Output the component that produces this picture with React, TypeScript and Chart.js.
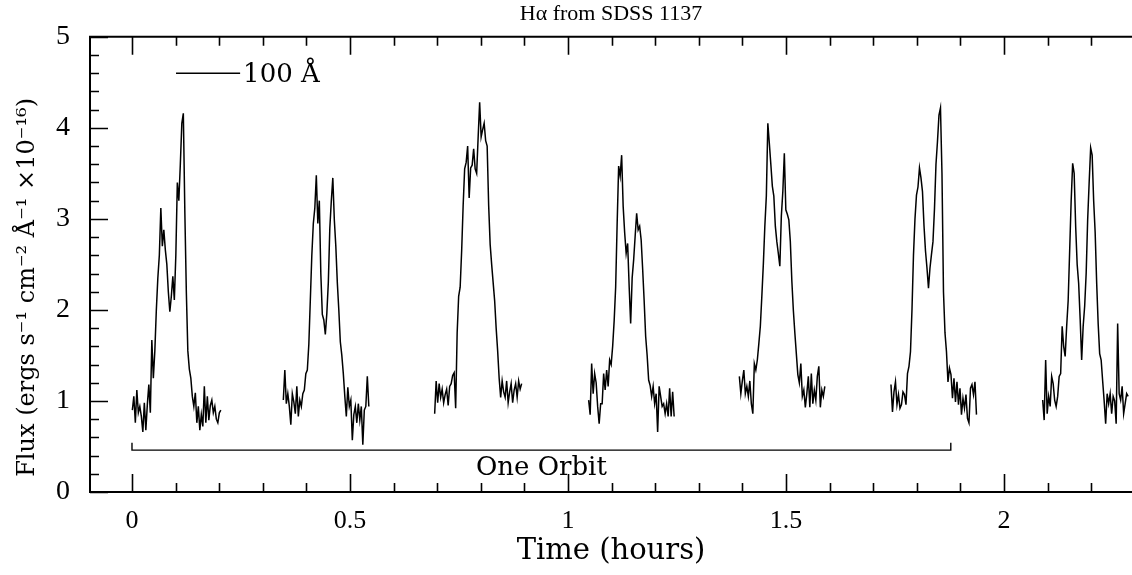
import React, { useEffect, useRef } from "react";
import { Chart, registerables } from "chart.js";

Chart.register(...registerables);

// ---------- data (time in hours, flux in 1e-16 erg s^-1 cm^-2 A^-1) ----------
const SAMPLE_STEP = 0.00344; // hours between successive spectrum samples

const seg1Start = 0.0008;
const seg1Flux = [0.90, 1.05, 0.76, 1.12, 0.87, 0.94, 0.83, 0.66, 0.98, 0.68, 0.96, 1.18, 0.87, 1.67, 1.25, 1.55, 2.00, 2.35, 2.60, 3.12, 2.70, 2.88, 2.66, 2.50, 2.20, 1.98, 2.15, 2.37, 2.11, 2.60, 3.40, 3.20, 3.60, 4.05, 4.16, 3.08, 2.20, 1.55, 1.35, 1.25, 1.05, 0.94, 1.09, 0.76, 0.94, 0.68, 0.85, 0.72, 1.16, 0.76, 1.05, 0.79, 0.95, 1.01, 0.87, 0.94, 0.80, 0.76, 0.87, 0.90];

const seg2Start = 0.3471;
const seg2Flux = [1.01, 1.34, 0.97, 1.08, 0.94, 0.74, 1.08, 0.99, 0.86, 1.16, 0.83, 1.01, 0.94, 1.08, 1.12, 1.30, 1.34, 1.62, 2.11, 2.60, 2.95, 3.12, 3.48, 2.95, 3.20, 2.40, 1.95, 1.89, 1.73, 1.96, 2.30, 2.90, 3.20, 3.45, 2.99, 2.70, 2.30, 2.00, 1.65, 1.50, 1.30, 1.05, 0.83, 1.15, 0.94, 1.01, 0.57, 0.85, 0.94, 0.76, 0.97, 0.79, 0.94, 0.52, 0.90, 0.94, 1.27, 0.94];

const seg3Start = 0.6942;
const seg3Flux = [0.86, 1.22, 0.98, 1.19, 1.04, 1.13, 0.98, 1.07, 1.13, 0.95, 1.16, 1.19, 1.28, 1.31, 0.92, 1.75, 2.15, 2.25, 2.65, 3.15, 3.55, 3.62, 3.80, 3.23, 3.56, 3.59, 3.77, 3.55, 3.50, 3.90, 4.28, 3.90, 3.98, 4.05, 3.86, 3.80, 3.15, 2.72, 2.50, 2.30, 2.10, 1.80, 1.55, 1.25, 1.04, 1.22, 1.10, 1.04, 1.22, 0.98, 1.10, 1.19, 0.98, 1.12, 1.19, 1.04, 1.22, 1.13, 1.19];

const seg4Start = 1.0474;
const seg4Flux = [1.01, 0.85, 1.41, 1.08, 1.30, 1.20, 0.94, 0.75, 0.97, 0.97, 1.30, 1.12, 1.34, 1.16, 1.45, 1.40, 1.60, 1.88, 2.25, 2.95, 3.58, 3.47, 3.70, 3.14, 2.85, 2.62, 2.73, 2.26, 1.85, 2.35, 2.55, 2.81, 3.06, 2.88, 2.92, 2.77, 2.45, 2.10, 1.71, 1.50, 1.23, 1.17, 1.05, 1.16, 0.97, 1.08, 0.66, 1.16, 1.05, 0.94, 0.97, 0.86, 0.97, 0.83, 1.14, 0.83, 1.10, 0.83];

const seg5Start = 1.3930;
const seg5Flux = [1.27, 1.08, 1.22, 1.34, 1.08, 1.16, 1.05, 1.22, 0.97, 0.86, 1.41, 1.34, 1.45, 1.63, 1.82, 2.15, 2.50, 2.92, 3.25, 4.05, 3.83, 3.60, 3.36, 3.25, 2.92, 2.75, 2.62, 2.48, 3.03, 3.30, 3.72, 3.10, 3.05, 2.99, 2.75, 2.32, 2.00, 1.75, 1.52, 1.29, 1.20, 1.41, 1.05, 1.12, 0.93, 1.08, 1.27, 0.93, 1.30, 0.97, 1.12, 1.01, 1.27, 1.38, 0.93, 1.12, 1.05, 1.16];

const seg6Start = 1.7408;
const seg6Flux = [1.18, 0.88, 1.10, 1.21, 0.96, 1.07, 0.92, 0.96, 1.10, 1.07, 0.96, 1.30, 1.38, 1.54, 2.00, 2.60, 3.00, 3.26, 3.35, 3.56, 3.45, 3.30, 2.93, 2.65, 2.46, 2.24, 2.46, 2.61, 2.75, 3.11, 3.60, 3.85, 4.14, 4.22, 3.50, 2.20, 1.75, 1.54, 1.21, 1.36, 1.29, 1.03, 1.25, 0.99, 1.21, 0.96, 1.14, 0.85, 1.03, 0.92, 1.07, 0.81, 0.76, 1.14, 1.18, 1.07, 1.21, 0.85];

const seg7Start = 2.0887;
const seg7Flux = [1.01, 0.79, 1.45, 0.86, 1.05, 0.94, 1.27, 1.19, 1.01, 0.94, 1.05, 1.27, 1.30, 1.82, 1.60, 1.49, 1.82, 2.10, 2.65, 3.20, 3.61, 3.50, 2.92, 2.50, 2.29, 1.90, 1.45, 1.82, 2.04, 2.40, 2.99, 3.40, 3.78, 3.70, 3.20, 2.85, 2.30, 1.85, 1.52, 1.45, 1.22, 1.00, 0.75, 1.08, 0.97, 1.08, 0.86, 1.05, 1.00, 0.75, 1.85, 1.08, 1.01, 1.16, 0.86, 0.97, 1.08, 1.05];

// "One Orbit" bracket
const ORBIT_START = 0;
const ORBIT_END = 1.878;
const ORBIT_LEVEL = 0.46;
const ORBIT_CAP = 0.54;
const ORBIT_LABEL = "One Orbit";

// 100 Å scale bar
const BAR_START = 0.101;
const BAR_END = 0.248;
const BAR_LEVEL = 4.6;
const BAR_LABEL = "100 Å";

// axes
const X_MIN = -0.0963;
const X_MAX = 2.2936;
const Y_MIN = 0;
const Y_MAX = 5;
const X_TICK_LABELS = [0, 0.5, 1, 1.5, 2];
const Y_TICK_LABELS = [0, 1, 2, 3, 4, 5];
const X_MINOR = 0.1;
const X_MAJOR = 0.5;
const Y_MINOR = 0.2;
const Y_MAJOR = 1;

const TITLE = "Hα from SDSS 1137";
const X_TITLE = "Time (hours)";
const Y_TITLE = "Flux (ergs s⁻¹ cm⁻² Å⁻¹ ×10⁻¹⁶)";

const SERIF = '"DejaVu Serif", serif';
const TICK_FONT = '"Liberation Serif", serif';

const framePlugin = {
  id: "frameTicks",
  afterDatasetsDraw(chart: any) {
    const { ctx, chartArea: a, scales } = chart;
    const xs = scales.x;
    const ys = scales.y;
    ctx.save();
    ctx.strokeStyle = "#000";
    ctx.lineWidth = 2;
    ctx.beginPath();
    ctx.moveTo(a.right, a.top);
    ctx.lineTo(a.left, a.top);
    ctx.lineTo(a.left, a.bottom);
    ctx.lineTo(a.right, a.bottom);
    ctx.stroke();
    ctx.lineWidth = 1.6;
    ctx.beginPath();
    const nx = Math.round((X_MAX - 0) / X_MINOR);
    for (let i = -1; i <= nx; i++) {
      const v = i * X_MINOR;
      if (v < X_MIN || v > X_MAX) continue;
      const major = Math.abs(v / X_MAJOR - Math.round(v / X_MAJOR)) < 1e-6;
      const len = major ? 18 : 9;
      const px = Math.round(xs.getPixelForValue(v)) + 0.5;
      ctx.moveTo(px, a.bottom);
      ctx.lineTo(px, a.bottom - len);
      ctx.moveTo(px, a.top);
      ctx.lineTo(px, a.top + len);
    }
    const ny = Math.round((Y_MAX - Y_MIN) / Y_MINOR);
    for (let i = 0; i <= ny; i++) {
      const v = Y_MIN + i * Y_MINOR;
      const major = Math.abs(v / Y_MAJOR - Math.round(v / Y_MAJOR)) < 1e-6;
      const len = major ? 18 : 9;
      const py = Math.round(ys.getPixelForValue(v)) + 0.5;
      ctx.moveTo(a.left, py);
      ctx.lineTo(a.left + len, py);
    }
    ctx.stroke();
    ctx.restore();
  },
};

const labelPlugin = {
  id: "annotLabels",
  afterDraw(chart: any) {
    const { ctx, chartArea: a, scales } = chart;
    const xs = scales.x;
    const ys = scales.y;
    ctx.save();
    ctx.fillStyle = "#000";
    ctx.font = `26px ${SERIF}`;
    // one orbit label
    ctx.textAlign = "center";
    ctx.textBaseline = "top";
    ctx.fillText(
      ORBIT_LABEL,
      xs.getPixelForValue((ORBIT_START + ORBIT_END) / 2),
      ys.getPixelForValue(ORBIT_LEVEL) + 5
    );
    // scale bar label
    ctx.textAlign = "left";
    ctx.textBaseline = "middle";
    ctx.fillText(BAR_LABEL, xs.getPixelForValue(BAR_END) + 3, ys.getPixelForValue(BAR_LEVEL) + 2);
    // y title
    ctx.translate(28, (a.top + a.bottom) / 2 + 23);
    ctx.rotate(-Math.PI / 2);
    ctx.textAlign = "center";
    ctx.textBaseline = "middle";
    ctx.font = `24px ${SERIF}`;
    ctx.fillText(Y_TITLE, 0, 0);
    ctx.restore();
  },
};

export default function App() {
  const ref = useRef<HTMLCanvasElement | null>(null);

  useEffect(() => {
    const canvas = ref.current;
    if (!canvas) return;
    const segments: [number, number[]][] = [
      [seg1Start, seg1Flux],
      [seg2Start, seg2Flux],
      [seg3Start, seg3Flux],
      [seg4Start, seg4Flux],
      [seg5Start, seg5Flux],
      [seg6Start, seg6Flux],
      [seg7Start, seg7Flux],
    ];
    const lineStyle = {
      borderColor: "#000",
      borderWidth: 1.5,
      pointRadius: 0,
      tension: 0,
      fill: false,
    };
    const datasets: any[] = segments.map(([start, flux]) => ({
      ...lineStyle,
      data: flux.map((f, i) => ({ x: start + i * SAMPLE_STEP, y: f })),
    }));
    datasets.push({
      ...lineStyle,
      borderWidth: 1.4,
      data: [
        { x: ORBIT_START, y: ORBIT_CAP },
        { x: ORBIT_START, y: ORBIT_LEVEL },
        { x: ORBIT_END, y: ORBIT_LEVEL },
        { x: ORBIT_END, y: ORBIT_CAP },
      ],
    });
    datasets.push({
      ...lineStyle,
      borderWidth: 1.4,
      data: [
        { x: BAR_START, y: BAR_LEVEL },
        { x: BAR_END, y: BAR_LEVEL },
      ],
    });

    const chart = new Chart(canvas, {
      type: "line",
      data: { datasets },
      options: {
        animation: false,
        responsive: false,
        devicePixelRatio: 1,
        layout: { padding: 0 },
        plugins: {
          legend: { display: false },
          tooltip: { enabled: false },
          title: {
            display: true,
            text: TITLE,
            fullSize: false,
            color: "#000",
            font: { family: TICK_FONT, size: 22, weight: "normal", lineHeight: 1.1 },
            padding: { top: 2, bottom: 10 },
          },
        },
        scales: {
          x: {
            type: "linear",
            min: X_MIN,
            max: X_MAX,
            grid: { display: false, drawTicks: false },
            border: { display: false },
            afterBuildTicks: (s: any) => {
              s.ticks = X_TICK_LABELS.map((v) => ({ value: v }));
            },
            afterFit: (s: any) => {
              s.height = 83;
            },
            ticks: {
              padding: 14,
              color: "#000",
              autoSkip: false,
              maxRotation: 0,
              font: { family: TICK_FONT, size: 26 },
              callback: (v: any) => String(v),
            },
            title: {
              display: true,
              text: X_TITLE,
              color: "#000",
              font: { family: SERIF, size: 29 },
              padding: { top: 0, bottom: 6 },
            },
          },
          y: {
            type: "linear",
            min: Y_MIN,
            max: Y_MAX,
            grid: { display: false, drawTicks: false },
            border: { display: false },
            afterBuildTicks: (s: any) => {
              s.ticks = Y_TICK_LABELS.map((v) => ({ value: v }));
            },
            afterFit: (s: any) => {
              s.width = 90;
            },
            ticks: {
              padding: 20,
              color: "#000",
              font: { family: TICK_FONT, size: 28 },
              callback: (v: any) => String(v),
            },
          },
        },
      } as any,
      plugins: [framePlugin, labelPlugin],
    });
    return () => chart.destroy();
  }, []);

  return (
    <div style={{ position: "fixed", left: 0, top: 0, width: 1132, height: 575, background: "#fff" }}>
      <canvas ref={ref} width={1132} height={575} style={{ display: "block" }} />
    </div>
  );
}
